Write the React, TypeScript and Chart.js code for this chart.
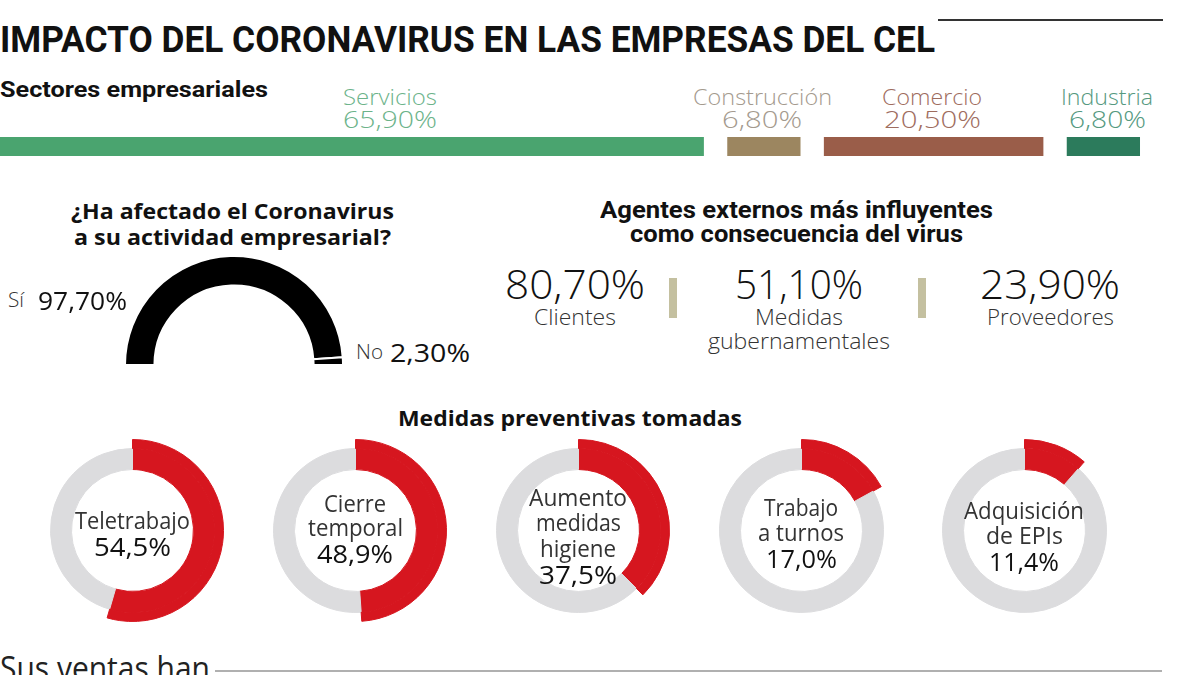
import React, { useEffect, useLayoutEffect, useRef } from "react";
import { Chart, registerables } from "chart.js";

Chart.register(...registerables);

// ---------------- DATA ----------------
const sectorNames = ["Servicios", "Construcción", "Comercio", "Industria"];
const sectorValues = [65.9, 6.8, 20.5, 6.8];

const affectedLabels = ["Sí", "No"];
const affectedValues = [97.7, 2.3];

const agentNames = [["Clientes"], ["Medidas", "gubernamentales"], ["Proveedores"]];
const agentValues = [80.7, 51.1, 23.9];

const measureNames = [
  ["Teletrabajo"],
  ["Cierre", "temporal"],
  ["Aumento", "medidas", "higiene"],
  ["Trabajo", "a turnos"],
  ["Adquisición", "de EPIs"],
];
const measureValues = [54.5, 48.9, 37.5, 17.0, 11.4];

// ---------------- STYLE ----------------
const sectorBarColors = ["#4aa46f", "#9c8660", "#9a5d49", "#2c7b5c"];
const sectorTextColors = ["#6cb38a", "#a49a8e", "#9e6c5e", "#559980"];
const RED = "#d6161f";
const GREY = "#dcdcde";
const SANS = "'Open Sans', 'Noto Sans', sans-serif";
const COND = "Roboto, 'Noto Sans', sans-serif";

const pct = (v: number, d: number) => v.toFixed(d).replace(".", ",") + "%";

// ---------------- HELPERS ----------------
type TProps = {
  text: string;
  cx?: number;
  left?: number;
  cy: number;
  w: number;
  size: number;
  weight?: number;
  color?: string;
  family?: string;
};

function FitText({ text, cx, left, cy, w, size, weight = 400, color = "#222", family = SANS }: TProps) {
  const ref = useRef<HTMLSpanElement>(null);
  useLayoutEffect(() => {
    const el = ref.current;
    if (!el) return;
    el.style.transform = "none";
    const nat = el.getBoundingClientRect().width;
    if (nat > 0) el.style.transform = `scaleX(${w / nat})`;
  }, [text, w, size]);
  const l = left !== undefined ? left : (cx as number) - w / 2;
  return (
    <span
      ref={ref}
      style={{
        position: "absolute",
        left: l,
        top: cy - size / 2,
        fontSize: size,
        lineHeight: `${size}px`,
        fontWeight: weight,
        color,
        fontFamily: family,
        whiteSpace: "nowrap",
        transformOrigin: "0 50%",
      }}
    >
      {text}
    </span>
  );
}

function ChartBox({ left, top, width, height, make }: { left: number; top: number; width: number; height: number; make: () => any }) {
  const ref = useRef<HTMLCanvasElement>(null);
  useEffect(() => {
    const chart = new Chart(ref.current as HTMLCanvasElement, make());
    return () => chart.destroy();
  }, []);
  return (
    <div style={{ position: "absolute", left, top, width, height }}>
      <canvas ref={ref} />
    </div>
  );
}

// ---------------- CHART CONFIGS ----------------
const GAP = 2.25;

function sectorConfig() {
  let acc = 0;
  const datasets = sectorValues.map((v, i) => {
    const s = acc + i * GAP;
    acc += v;
    return {
      label: sectorNames[i],
      data: [[s, s + v]],
      backgroundColor: sectorBarColors[i],
      borderWidth: 0,
      grouped: false,
      barPercentage: 1,
      categoryPercentage: 1,
    };
  });
  return {
    type: "bar",
    data: { labels: ["Sectores"], datasets },
    options: {
      indexAxis: "y",
      animation: false,
      responsive: true,
      maintainAspectRatio: false,
      layout: { padding: 0 },
      scales: {
        x: { type: "linear", min: 0, max: 112.4, display: false },
        y: { display: false },
      },
      plugins: { legend: { display: false }, tooltip: { enabled: false } },
    },
  };
}

function halfConfig() {
  return {
    type: "doughnut",
    data: {
      labels: affectedLabels,
      datasets: [
        {
          data: affectedValues,
          backgroundColor: ["#000000", "#000000"],
          borderColor: "#ffffff",
          borderWidth: 2,
        },
      ],
    },
    options: {
      animation: false,
      responsive: true,
      maintainAspectRatio: false,
      rotation: -90,
      circumference: 180,
      cutout: "73%",
      layout: { padding: 0 },
      plugins: { legend: { display: false }, tooltip: { enabled: false } },
    },
  };
}

function measureConfig(i: number) {
  const v = measureValues[i];
  return () => ({
    type: "doughnut",
    data: {
      labels: [measureNames[i].join(" "), "Resto"],
      datasets: [
        {
          data: [v, 100 - v],
          backgroundColor: [RED, "rgba(0,0,0,0)"],
          borderColor: [RED, "rgba(0,0,0,0)"],
          borderWidth: 1,
          weight: 9,
        },
        {
          data: [v, 100 - v],
          backgroundColor: [RED, GREY],
          borderColor: [RED, GREY],
          borderWidth: 1,
          weight: 21,
        },
      ],
    },
    options: {
      animation: false,
      responsive: true,
      maintainAspectRatio: false,
      cutout: "67%",
      layout: { padding: 0 },
      plugins: { legend: { display: false }, tooltip: { enabled: false } },
    },
  });
}

// ---------------- APP ----------------
const sectorLayout = [
  { cx: 390, wn: 94, wp: 94 },
  { cx: 762, wn: 139, wp: 80 },
  { cx: 932, wn: 100, wp: 97 },
  { cx: 1107, wn: 92, wp: 77 },
];
const agentLayout = [
  { cx: 575, wn: 140, wl: [82] },
  { cx: 799, wn: 128, wl: [88, 182] },
  { cx: 1050, wn: 140, wl: [127] },
];
const donutCX = [132, 355, 578, 801, 1024];
const donutTextLayout = [
  { y: [520], w: [115], py: 546, pw: 77 },
  { y: [503, 527], w: [62, 95], py: 553, pw: 76 },
  { y: [497, 522, 548], w: [98, 85, 76], py: 574, pw: 78 },
  { y: [507, 532], w: [74, 86], py: 558, pw: 71 },
  { y: [510, 535], w: [120, 77], py: 561, pw: 70 },
];

export default function App() {
  return (
    <div
      style={{
        position: "absolute",
        left: 0,
        top: 0,
        width: 1200,
        height: 675,
        overflow: "hidden",
        background: "#ffffff",
      }}
    >
      {/* Title */}
      <FitText text="IMPACTO DEL CORONAVIRUS EN LAS EMPRESAS DEL CEL" left={0} cy={39} w={935} size={37} weight={700} color="#111" family={COND} />
      <div style={{ position: "absolute", left: 938, top: 19, width: 225, height: 2, background: "#333" }} />

      {/* Sectores */}
      <FitText text="Sectores empresariales" left={0} cy={90} w={268} size={22} weight={700} color="#111" family={COND} />
      {sectorNames.map((n, i) => (
        <React.Fragment key={n}>
          <FitText text={n} cx={sectorLayout[i].cx} cy={96} w={sectorLayout[i].wn} size={22} weight={300} color={sectorTextColors[i]} />
          <FitText text={pct(sectorValues[i], 2)} cx={sectorLayout[i].cx} cy={119} w={sectorLayout[i].wp} size={24} weight={300} color={sectorTextColors[i]} />
        </React.Fragment>
      ))}
      <ChartBox left={0} top={137} width={1200} height={19} make={sectorConfig} />

      {/* Half donut */}
      <FitText text="¿Ha afectado el Coronavirus" cx={232} cy={210} w={323} size={22} weight={700} color="#111" />
      <FitText text="a su actividad empresarial?" cx={232} cy={236} w={317} size={22} weight={700} color="#111" />
      <ChartBox left={124} top={255} width={220} height={111} make={halfConfig} />
      <FitText text={affectedLabels[0]} left={8} cy={300} w={16} size={20} weight={300} color="#333" />
      <FitText text={pct(affectedValues[0], 2)} left={38} cy={300} w={89} size={25} weight={400} color="#111" />
      <FitText text={affectedLabels[1]} left={356} cy={352} w={27} size={20} weight={300} color="#333" />
      <FitText text={pct(affectedValues[1], 2)} left={390} cy={352} w={80} size={25} weight={400} color="#111" />

      {/* Agentes externos */}
      <FitText text="Agentes externos más influyentes" cx={796} cy={210} w={393} size={23} weight={700} color="#111" family={COND} />
      <FitText text="como consecuencia del virus" cx={796} cy={234} w={333} size={23} weight={700} color="#111" family={COND} />
      {agentValues.map((v, i) => (
        <React.Fragment key={i}>
          <FitText text={pct(v, 2)} cx={agentLayout[i].cx} cy={284} w={agentLayout[i].wn} size={40} weight={300} color="#111" />
          {agentNames[i].map((line, j) => (
            <FitText key={j} text={line} cx={agentLayout[i].cx} cy={316 + j * 24} w={agentLayout[i].wl[j]} size={22} weight={300} color="#333" />
          ))}
        </React.Fragment>
      ))}
      <div style={{ position: "absolute", left: 669, top: 278, width: 8, height: 40, background: "#c4c0a0" }} />
      <div style={{ position: "absolute", left: 918, top: 278, width: 8, height: 40, background: "#c4c0a0" }} />

      {/* Medidas preventivas */}
      <FitText text="Medidas preventivas tomadas" cx={570} cy={417} w={344} size={22} weight={700} color="#111" />
      {measureValues.map((v, i) => (
        <React.Fragment key={i}>
          <ChartBox left={donutCX[i] - 91.5} top={530 - 91.5} width={183} height={183} make={measureConfig(i)} />
          {measureNames[i].map((line, j) => (
            <FitText key={j} text={line} cx={donutCX[i]} cy={donutTextLayout[i].y[j]} w={donutTextLayout[i].w[j]} size={23} weight={400} color="#333" />
          ))}
          <FitText text={pct(v, 1)} cx={donutCX[i]} cy={donutTextLayout[i].py} w={donutTextLayout[i].pw} size={26} weight={400} color="#111" />
        </React.Fragment>
      ))}

      {/* Bottom */}
      <FitText text="Sus ventas han" left={0} cy={668} w={210} size={32} weight={400} color="#222" />
      <div style={{ position: "absolute", left: 215, top: 670, width: 947, height: 2, background: "#b0b0b0" }} />
    </div>
  );
}
